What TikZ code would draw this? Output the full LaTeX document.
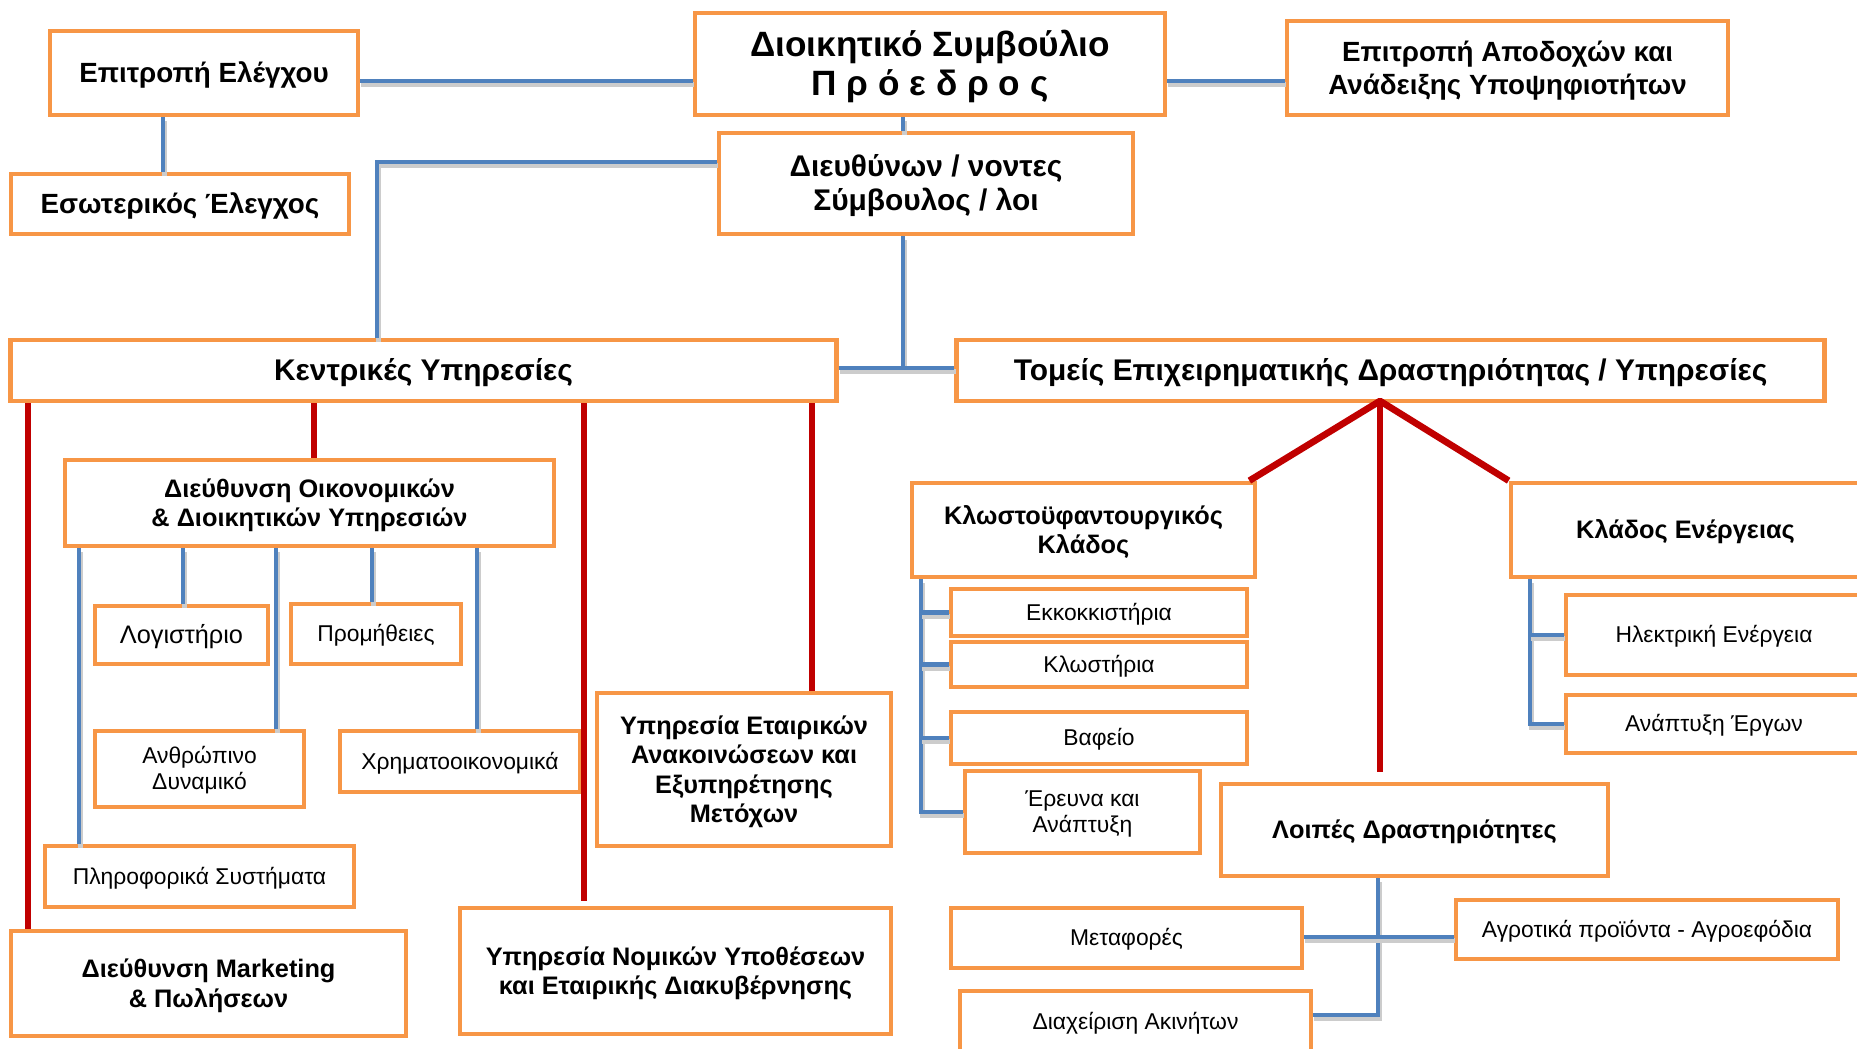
\documentclass[tikz,border=0pt]{standalone}
\usepackage{fontspec}
\setmainfont{Liberation Sans}
\usepackage{xcolor}
\definecolor{boxorange}{HTML}{F79646}
\definecolor{linkblue}{HTML}{4F81BD}
\definecolor{linkred}{HTML}{C00000}
\newcommand{\boxtext}[1]{\setbox0=\hbox{\begin{tabular}{@{}c@{}}#1\end{tabular}}%
  \ht0=\dimexpr\ht0+0.09em\relax\dp0=\dimexpr\dp0-0.14em\relax\box0}

\begin{document}
\begin{tikzpicture}[x=0.01cm,y=-0.01cm,
  box/.style={draw=boxorange,line width=1.3pt,fill=white,inner sep=0pt},
  title/.style={box,font=\fontsize{10}{11}\selectfont\bfseries},
  head/.style={box,font=\fontsize{8.5}{9.7}\selectfont\bfseries},
  comm/.style={box,font=\fontsize{7.9}{9.4}\selectfont\bfseries},
  unit/.style={box,font=\fontsize{7.2}{8.4}\selectfont\bfseries},
  dept/.style={box,font=\fontsize{6.5}{7.4}\selectfont},
  blink/.style={draw=linkblue,line width=1.4pt,
    preaction={draw=black!20,line width=1.4pt,transform canvas={xshift=0.3pt,yshift=-1.1pt}}},
  rlink/.style={draw=linkred,line width=1.9pt,line join=round}]

  \useasboundingbox (0,0) rectangle (1857,1049);

  \node[title,minimum width=4.70cm,minimum height=1.02cm] (board) at (930,64) {\boxtext{Διοικητικό Συμβούλιο\\Π ρ ό ε δ ρ ο ς}};
  \node[comm,minimum width=3.08cm,minimum height=0.84cm] (ctrlcom) at (204,73) {\boxtext{Επιτροπή Ελέγχου}};
  \node[comm,minimum width=4.41cm,minimum height=0.94cm] (remcom) at (1507.5,68) {\boxtext{Επιτροπή Αποδοχών και\\Ανάδειξης Υποψηφιοτήτων}};
  \node[comm,minimum width=3.38cm,minimum height=0.60cm] (audit) at (180,204) {\boxtext{Εσωτερικός Έλεγχος}};
  \node[head,minimum width=4.14cm,minimum height=1.01cm] (ceo) at (926,183.5) {\boxtext{Διευθύνων / νοντες\\Σύμβουλος / λοι}};
  \node[head,minimum width=8.25cm,minimum height=0.61cm] (central) at (423.5,370.5) {\boxtext{Κεντρικές Υπηρεσίες}};
  \node[head,minimum width=8.67cm,minimum height=0.61cm] (sectors) at (1390.5,370.5) {\boxtext{Τομείς Επιχειρηματικής Δραστηριότητας / Υπηρεσίες}};

  \node[unit,minimum width=4.89cm,minimum height=0.86cm] (finadm) at (309.5,503) {\boxtext{Διεύθυνση Οικονομικών\\\& Διοικητικών Υπηρεσιών}};
  \node[dept,font=\fontsize{7.2}{8.2}\selectfont,minimum width=1.73cm,minimum height=0.58cm] (acc) at (181.5,635) {\boxtext{Λογιστήριο}};
  \node[dept,minimum width=1.70cm,minimum height=0.60cm] (proc) at (376,634) {\boxtext{Προμήθειες}};
  \node[dept,minimum width=2.09cm,minimum height=0.76cm] (hr) at (199.5,769) {\boxtext{Ανθρώπινο\\Δυναμικό}};
  \node[dept,minimum width=2.40cm,minimum height=0.61cm] (fin) at (460,761.5) {\boxtext{Χρηματοοικονομικά}};
  \node[dept,minimum width=3.09cm,minimum height=0.61cm] (it) at (199.5,876.5) {\boxtext{Πληροφορικά Συστήματα\hspace{1.6em}}};
  \node[unit,minimum width=3.95cm,minimum height=1.05cm] (mkt) at (208.5,983.5) {\boxtext{Διεύθυνση Marketing\\\& Πωλήσεων}};
  \node[unit,minimum width=2.94cm,minimum height=1.53cm] (ir) at (744,769.5) {\boxtext{Υπηρεσία Εταιρικών\\Ανακοινώσεων και\\Εξυπηρέτησης\\Μετόχων}};
  \node[unit,minimum width=4.31cm,minimum height=1.26cm] (legal) at (675.5,971) {\boxtext{Υπηρεσία Νομικών Υποθέσεων\\και Εταιρικής Διακυβέρνησης}};

  \node[unit,minimum width=3.43cm,minimum height=0.94cm] (textile) at (1083.5,530) {\boxtext{Κλωστοϋφαντουργικός\\Κλάδος}};
  \node[unit,minimum width=3.49cm,minimum height=0.94cm] (energy) at (1685.5,530) {\boxtext{Κλάδος Ενέργειας}};
  \node[dept,minimum width=2.96cm,minimum height=0.47cm] (gin) at (1099,612.5) {\boxtext{Εκκοκκιστήρια}};
  \node[dept,minimum width=2.96cm,minimum height=0.45cm] (spin) at (1099,664.5) {\boxtext{Κλωστήρια}};
  \node[dept,minimum width=2.96cm,minimum height=0.52cm] (dye) at (1099,738) {\boxtext{Βαφείο}};
  \node[dept,minimum width=2.35cm,minimum height=0.82cm] (rnd) at (1082.5,812) {\boxtext{Έρευνα και\\Ανάπτυξη}};
  \node[dept,minimum width=2.96cm,minimum height=0.80cm] (power) at (1714,635) {\boxtext{Ηλεκτρική Ενέργεια}};
  \node[dept,minimum width=2.96cm,minimum height=0.58cm] (proj) at (1714,724) {\boxtext{Ανάπτυξη Έργων}};
  \node[unit,minimum width=3.87cm,minimum height=0.92cm] (other) at (1414.5,830) {\boxtext{Λοιπές Δραστηριότητες}};
  \node[dept,minimum width=3.51cm,minimum height=0.60cm] (trans) at (1126.5,938) {\boxtext{Μεταφορές}};
  \node[dept,minimum width=3.82cm,minimum height=0.59cm] (agro) at (1647,929.5) {\boxtext{Αγροτικά προϊόντα - Αγροεφόδια}};
  \node[dept,minimum width=3.51cm,minimum height=0.62cm] (estate) at (1135.5,1022) {\boxtext{Διαχείριση Ακινήτων}};

  \coordinate (hub) at (903,368);
  \coordinate (peak) at (1380,401);
  \coordinate (cross) at (1378,937);

  \draw[blink] (ctrlcom.east |- 0,81) -- (board.west |- 0,81);
  \draw[blink] (board.east |- 0,81) -- (remcom.west |- 0,81);
  \draw[blink] (ctrlcom.south -| 163,0) -- (audit.north -| 163,0);
  \draw[blink] (board.south -| hub) -- (ceo.north -| hub);
  \draw[blink,line width=1.1pt] (ceo.west |- 0,162) -| (central.north -| 377,0);
  \draw[blink] (ceo.south -| hub) -- (hub);
  \draw[blink] (central.east |- hub) -- (sectors.west |- hub);

  \draw[rlink] (central.south -| 28,0) -- (mkt.north -| 28,0);
  \draw[rlink] (central.south -| 314,0) -- (finadm.north -| 314,0);
  \draw[rlink] (central.south -| 584,0) -- ([yshift=0.05cm]legal.north -| 584,0);
  \draw[rlink] (central.south -| 812,0) -- (ir.north -| 812,0);
  \draw[rlink] ([xshift=-0.08cm]textile.north east) -- (peak) -- (energy.north west);
  \draw[rlink] (peak) -- ([yshift=0.1cm]other.north -| peak);

  \draw[blink] (finadm.south -| 79,0) -- (it.north -| 79,0);
  \draw[blink] (finadm.south -| 183,0) -- (acc.north -| 183,0);
  \draw[blink] (finadm.south -| 276,0) -- (hr.north -| 276,0);
  \draw[blink] (finadm.south -| 372,0) -- (proc.north -| 372,0);
  \draw[blink] (finadm.south -| 477,0) -- (fin.north -| 477,0);

  \draw[blink] (textile.south -| 921,0) |- (rnd.west);
  \foreach \n in {gin,spin,dye}
    \draw[blink] (\n.west -| 921,0) -- (\n.west);
  \draw[blink] (energy.south -| 1530,0) |- (proj.west);
  \draw[blink] (power.west -| 1530,0) -- (power.west);

  \draw[blink] (other.south -| cross) -- (cross |- 0,1015) -- (estate.east |- 0,1015);
  \draw[blink] (trans.east |- cross) -- (agro.west |- cross);
\end{tikzpicture}
\end{document}
